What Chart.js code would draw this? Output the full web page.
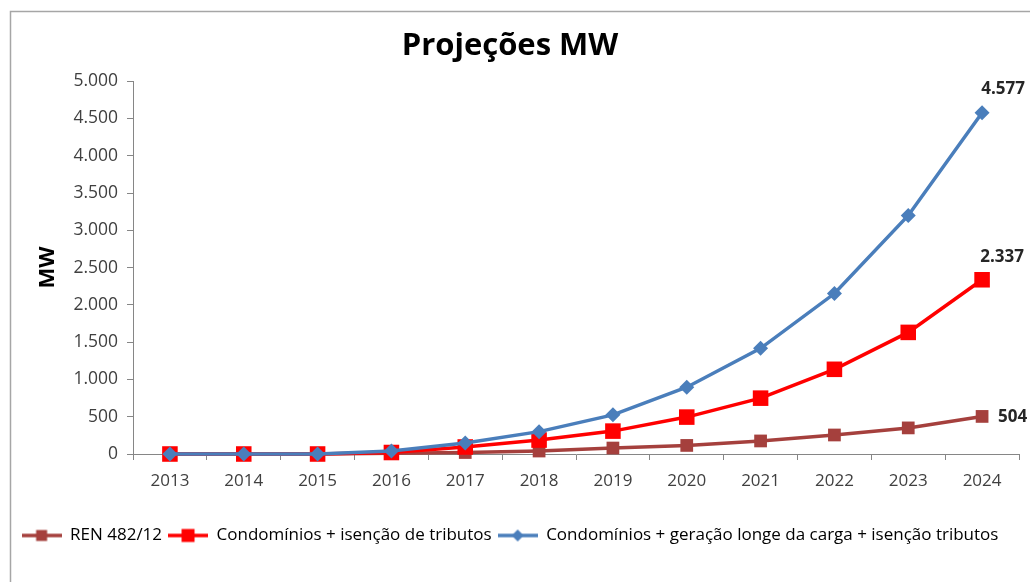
<!DOCTYPE html>
<html>
<head>
<meta charset="utf-8">
<title>Projeções MW</title>
<script src="https://cdn.jsdelivr.net/npm/chart.js@4"></script>
<style>
  html, body { margin: 0; padding: 0; background: #fff; }
  #wrap { width: 1030px; height: 582px; position: relative; }
</style>
</head>
<body>
<div id="wrap"><canvas id="projecoes"></canvas></div>
<script>
const years = ["2013", "2014", "2015", "2016", "2017", "2018", "2019", "2020", "2021", "2022", "2023", "2024"];
const ren482 = [0, 0, 0, 10, 20, 40, 80, 115, 175, 255, 350, 504];
const condominios = [0, 0, 0, 20, 94, 187, 307, 495, 749, 1136, 1631, 2337];
const condominiosGeracao = [0, 0, 0, 40, 147, 300, 525, 896, 1417, 2152, 3200, 4577];
const seriesNames = [
  "REN 482/12",
  "Condomínios + isenção de tributos",
  "Condomínios + geração longe da carga + isenção tributos",
];

const fontFamily = "'Open Sans', sans-serif";
const colors = ["#A5403D", "#FF0000", "#4A7EBB"];

function formatMW(value) {
  return String(value).replace(/\B(?=(\d{3})+(?!\d))/g, ".");
}

// legend symbol: short line with the marker in the middle
function legendSymbol(color, style, size) {
  const c = document.createElement("canvas");
  c.width = 40;
  c.height = 16;
  const ctx = c.getContext("2d");
  ctx.strokeStyle = color;
  ctx.fillStyle = color;
  ctx.lineWidth = 3.5;
  ctx.beginPath();
  ctx.moveTo(0, 8);
  ctx.lineTo(40, 8);
  ctx.stroke();
  ctx.beginPath();
  if (style === "rectRot") {
    ctx.moveTo(20 - size, 8);
    ctx.lineTo(20, 8 - size);
    ctx.lineTo(20 + size, 8);
    ctx.lineTo(20, 8 + size);
    ctx.closePath();
  } else {
    ctx.rect(20 - size, 8 - size, size * 2, size * 2);
  }
  ctx.fill();
  return c;
}

const legendSymbols = [
  legendSymbol(colors[0], "rect", 5.5),
  legendSymbol(colors[1], "rect", 6.5),
  legendSymbol(colors[2], "rectRot", 6),
];

const framePlugin = {
  id: "frame",
  beforeDraw(chart) {
    const ctx = chart.ctx;
    ctx.save();
    ctx.strokeStyle = "#A6A6A6";
    ctx.lineWidth = 1.5;
    ctx.beginPath();
    ctx.moveTo(10.5, chart.height);
    ctx.lineTo(10.5, 11.5);
    ctx.lineTo(chart.width, 11.5);
    ctx.stroke();
    ctx.restore();
  },
};

// value labels on the last point of each series
const lastValueLabels = {
  id: "lastValueLabels",
  afterDatasetsDraw(chart) {
    const ctx = chart.ctx;
    const offsets = [
      { dx: 16, dy: 1, align: "left" },
      { dx: 20, dy: -23, align: "center" },
      { dx: 21, dy: -24, align: "center" },
    ];
    ctx.save();
    ctx.font = "bold 17px " + fontFamily;
    ctx.fillStyle = "#262626";
    ctx.textBaseline = "middle";
    chart.data.datasets.forEach((ds, i) => {
      const meta = chart.getDatasetMeta(i);
      const last = meta.data[meta.data.length - 1];
      const o = offsets[i];
      ctx.textAlign = o.align;
      ctx.fillText(formatMW(ds.data[ds.data.length - 1]), last.x + o.dx, last.y + o.dy);
    });
    ctx.restore();
  },
};

function lineSeries(i, data, pointStyle, radius) {
  return {
    label: seriesNames[i],
    data: data,
    borderColor: colors[i],
    backgroundColor: colors[i],
    borderWidth: 3.5,
    pointStyle: pointStyle,
    pointRadius: radius,
    pointHoverRadius: radius,
    pointBorderWidth: 0,
    tension: 0,
    clip: false,
    order: 3 - i,
  };
}

new Chart(document.getElementById("projecoes"), {
  type: "line",
  data: {
    labels: years,
    datasets: [
      lineSeries(0, ren482, "rect", 9),
      lineSeries(1, condominios, "rect", 11),
      lineSeries(2, condominiosGeracao, "rectRot", 7.5),
    ],
  },
  options: {
    responsive: true,
    maintainAspectRatio: false,
    animation: false,
    layout: { padding: { left: 0, right: 10, top: 0, bottom: 28 } },
    plugins: {
      title: {
        display: true,
        text: "Projeções MW",
        color: "#000",
        font: { family: fontFamily, size: 31, weight: "bold" },
        padding: { top: 28, bottom: 16 },
      },
      legend: {
        position: "bottom",
        labels: {
          usePointStyle: true,
          pointStyleWidth: 40,
          padding: 6,
          color: "#262626",
          font: { family: fontFamily, size: 17 },
          generateLabels: () =>
            seriesNames.map((name, i) => ({
              text: name,
              pointStyle: legendSymbols[i],
              fillStyle: colors[i],
              strokeStyle: colors[i],
              lineWidth: 0,
              datasetIndex: i,
            })),
        },
      },
      tooltip: { enabled: false },
    },
    scales: {
      x: {
        offset: true,
        grid: { display: true, offset: true, drawOnChartArea: false, tickLength: 6, color: "#868686" },
        border: { display: true, color: "#868686", width: 1 },
        ticks: { color: "#404040", padding: 11, font: { family: fontFamily, size: 17 } },
        afterFit: (scale) => { scale.height = 67; },
      },
      y: {
        min: 0,
        max: 5000,
        ticks: {
          stepSize: 500,
          color: "#404040",
          padding: 9,
          font: { family: fontFamily, size: 17.5 },
          callback: (value) => formatMW(value),
        },
        grid: { display: true, drawOnChartArea: false, tickLength: 6, color: "#868686" },
        border: { display: true, color: "#868686", width: 1 },
        title: {
          display: true,
          text: "MW",
          color: "#000",
          font: { family: fontFamily, size: 22, weight: "bold" },
          padding: { top: 35, bottom: 0 },
        },
        afterFit: (scale) => { scale.width = 133; },
      },
    },
  },
  plugins: [framePlugin, lastValueLabels],
});
</script>
</body>
</html>
